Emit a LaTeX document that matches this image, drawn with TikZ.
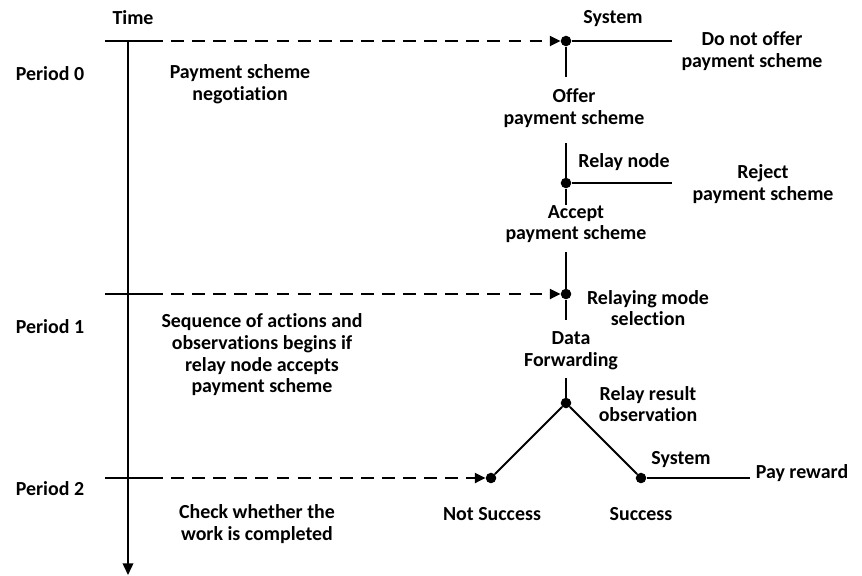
\documentclass[tikz,border=0pt]{standalone}
\usepackage{fontspec}
\setmainfont{Carlito}[Ligatures=NoCommon]
\usetikzlibrary{arrows.meta}

\begin{document}
\begin{tikzpicture}[x=0.03cm, y=-0.03cm,
    every node/.style={font=\bfseries\fontsize{17}{18.5}\selectfont, align=center, inner sep=0pt},
    dot/.style={circle, fill, minimum size=9pt, inner sep=0pt},
    tree/.style={line width=1.7pt},
    period/.style={line width=1.7pt, dash pattern=on 11pt off 7pt, -{Triangle[length=9pt,width=8.5pt]}}]
    \useasboundingbox (0,0) rectangle (862,575);

    % time axis
    \node (time) at (133,18) {Time};
    \coordinate (axtop) at (128,41);
    \coordinate (axend) at (128,575);
    \draw[tree, -{Triangle[length=10pt,width=9pt]}] (axtop) -- (axend);

    \node (p0) at (50,74) {Period 0};
    \node (p1) at (50,327) {Period 1};
    \node (p2) at (50,489) {Period 2};
    \node (neg) at (240,84) {Payment scheme\\negotiation};
    \node (seq) at (262,355) {Sequence of actions and\\observations begins if\\relay node accepts\\payment scheme};
    \node (chk) at (257,524) {Check whether the\\work is completed};

    % decision points
    \node[dot] (sys) at (566,41) {};
    \node[dot] (rly) at (566,183) {};
    \node[dot] (mode) at (566,294) {};
    \node[dot] (obs) at (566,403) {};
    \node[dot] (fail) at (491,478) {};
    \node[dot] (succ) at (641,478) {};

    % period marks
    \foreach \y/\n in {41/sys, 294/mode, 478/fail} {
        \coordinate (tick\n) at (150,\y);
        \draw[tree] (105,\y) -- (tick\n);
        \draw[period] (tick\n) -- (\n);
    }

    % labels
    \node (sysl) at (613,19) {System};
    \node (nooffer) at (752,51) {Do not offer\\payment scheme};
    \node (offer) at (574,108) {Offer\\payment scheme};
    \node (rlyl) at (624,162) {Relay node};
    \node (reject) at (763,184) {Reject\\payment scheme};
    \node (accept) at (576,224) {Accept\\payment scheme};
    \node (model) at (648,308) {Relaying mode\\selection};
    \node (fwd) at (571,351) {Data\\Forwarding};
    \node (obsl) at (648,404) {Relay result\\observation};
    \node (sys2l) at (681,460) {System};
    \node (pay) at (802,473) {Pay reward};
    \node (faill) at (492,514) {Not Success};
    \node (succl) at (641,514) {Success};

    % branches
    \coordinate (noofferend) at (672,41);
    \coordinate (rejectend) at (672,183);
    \coordinate (payend) at (750,478);
    \draw[tree] (sys) -- (noofferend);
    \draw[tree] (sys) -- (566,77);
    \draw[tree] (566,143) -- (rly);
    \draw[tree] (rly) -- (rejectend);
    \draw[tree] (rly) -- (566,205);
    \draw[tree] (566,252) -- (mode);
    \draw[tree] (mode) -- (566,320);
    \draw[tree] (566,378) -- (obs);
    \draw[tree] (obs) -- (fail);
    \draw[tree] (obs) -- (succ);
    \draw[tree] (succ) -- (payend);
\end{tikzpicture}
\end{document}
